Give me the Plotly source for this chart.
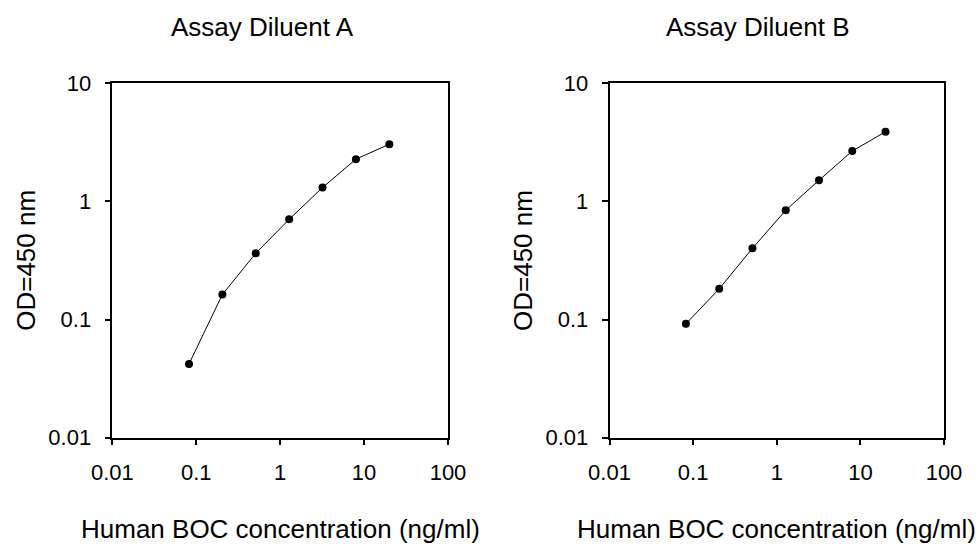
import plotly.graph_objects as go

# Data
conc = [0.082, 0.205, 0.512, 1.28, 3.2, 8.0, 20.0]
od_a = [0.042, 0.163, 0.364, 0.705, 1.31, 2.28, 3.05]
od_b = [0.092, 0.182, 0.401, 0.841, 1.51, 2.67, 3.89]

titles = ["Assay Diluent A", "Assay Diluent B"]
x_title = "Human BOC concentration (ng/ml)"
y_title = "OD=450 nm"
x_tickvals = [0.01, 0.1, 1, 10, 100]
x_ticktext = ["0.01", "0.1", "1", "10", "100"]
y_tickvals = [0.01, 0.1, 1, 10]
y_ticktext = ["0.01", "0.1", "1", "10"]

FONT = "Liberation Sans, Arial, sans-serif"

fig = go.Figure()
for i, od in enumerate([od_a, od_b]):
    fig.add_trace(go.Scatter(
        x=conc, y=od, mode="lines+markers",
        xaxis="x" if i == 0 else "x2", yaxis="y" if i == 0 else "y2",
        line=dict(color="black", width=1),
        marker=dict(color="black", size=8, symbol="circle"),
        showlegend=False,
    ))

W, H = 980, 544
dom_y = [1 - 437.7 / H, 1 - 83.3 / H]
dom_x1 = [112.3 / W, 448.0 / W]
dom_x2 = [609.5 / W, 944.0 / W]

def xaxis(dom, anchor):
    return dict(type="log", domain=dom, anchor=anchor, range=[-2, 2],
                tickvals=x_tickvals, ticktext=x_ticktext,
                showline=True, linecolor="black", linewidth=1.5, mirror=True,
                ticks="outside", ticklen=6, tickwidth=1.5, tickcolor="black",
                ticklabelstandoff=8, automargin=False,
                showgrid=False, zeroline=False,
                tickfont=dict(family=FONT, size=22, color="black"))

def yaxis(anchor):
    return dict(type="log", domain=dom_y, anchor=anchor, range=[-2, 1],
                tickvals=y_tickvals, ticktext=y_ticktext,
                showline=True, linecolor="black", linewidth=1.5, mirror=True,
                ticks="outside", ticklen=6, tickwidth=1.5, tickcolor="black",
                ticklabelstandoff=9, automargin=False,
                showgrid=False, zeroline=False,
                tickfont=dict(family=FONT, size=22, color="black"))

annotations = []
for i, (xd, tcx) in enumerate([(dom_x1, 262), (dom_x2, 758)]):
    annotations.append(dict(text=titles[i], x=tcx / W, y=1 - 27 / H, xref="paper", yref="paper",
                            xanchor="center", yanchor="middle", showarrow=False,
                            font=dict(family=FONT, size=26, color="black")))
    annotations.append(dict(text=x_title, x=(xd[0] + xd[1]) / 2, y=1 - 529 / H,
                            xref="paper", yref="paper", xanchor="center", yanchor="middle",
                            showarrow=False, font=dict(family=FONT, size=26, color="black")))
    annotations.append(dict(text=y_title, x=(xd[0] * W - 86) / W, y=(dom_y[0] + dom_y[1]) / 2,
                            xref="paper", yref="paper", xanchor="center", yanchor="middle",
                            textangle=-90, showarrow=False,
                            font=dict(family=FONT, size=26, color="black")))

fig.update_layout(
    width=W, height=H, margin=dict(l=0, r=0, t=0, b=0),
    paper_bgcolor="white", plot_bgcolor="white",
    xaxis=xaxis(dom_x1, "y"), yaxis=yaxis("x"),
    xaxis2=xaxis(dom_x2, "y2"), yaxis2=yaxis("x2"),
    annotations=annotations,
)

fig.write_html("out.html", config={"displayModeBar": False},
               post_script="document.body.style.margin='0';document.body.style.overflow='hidden';")
